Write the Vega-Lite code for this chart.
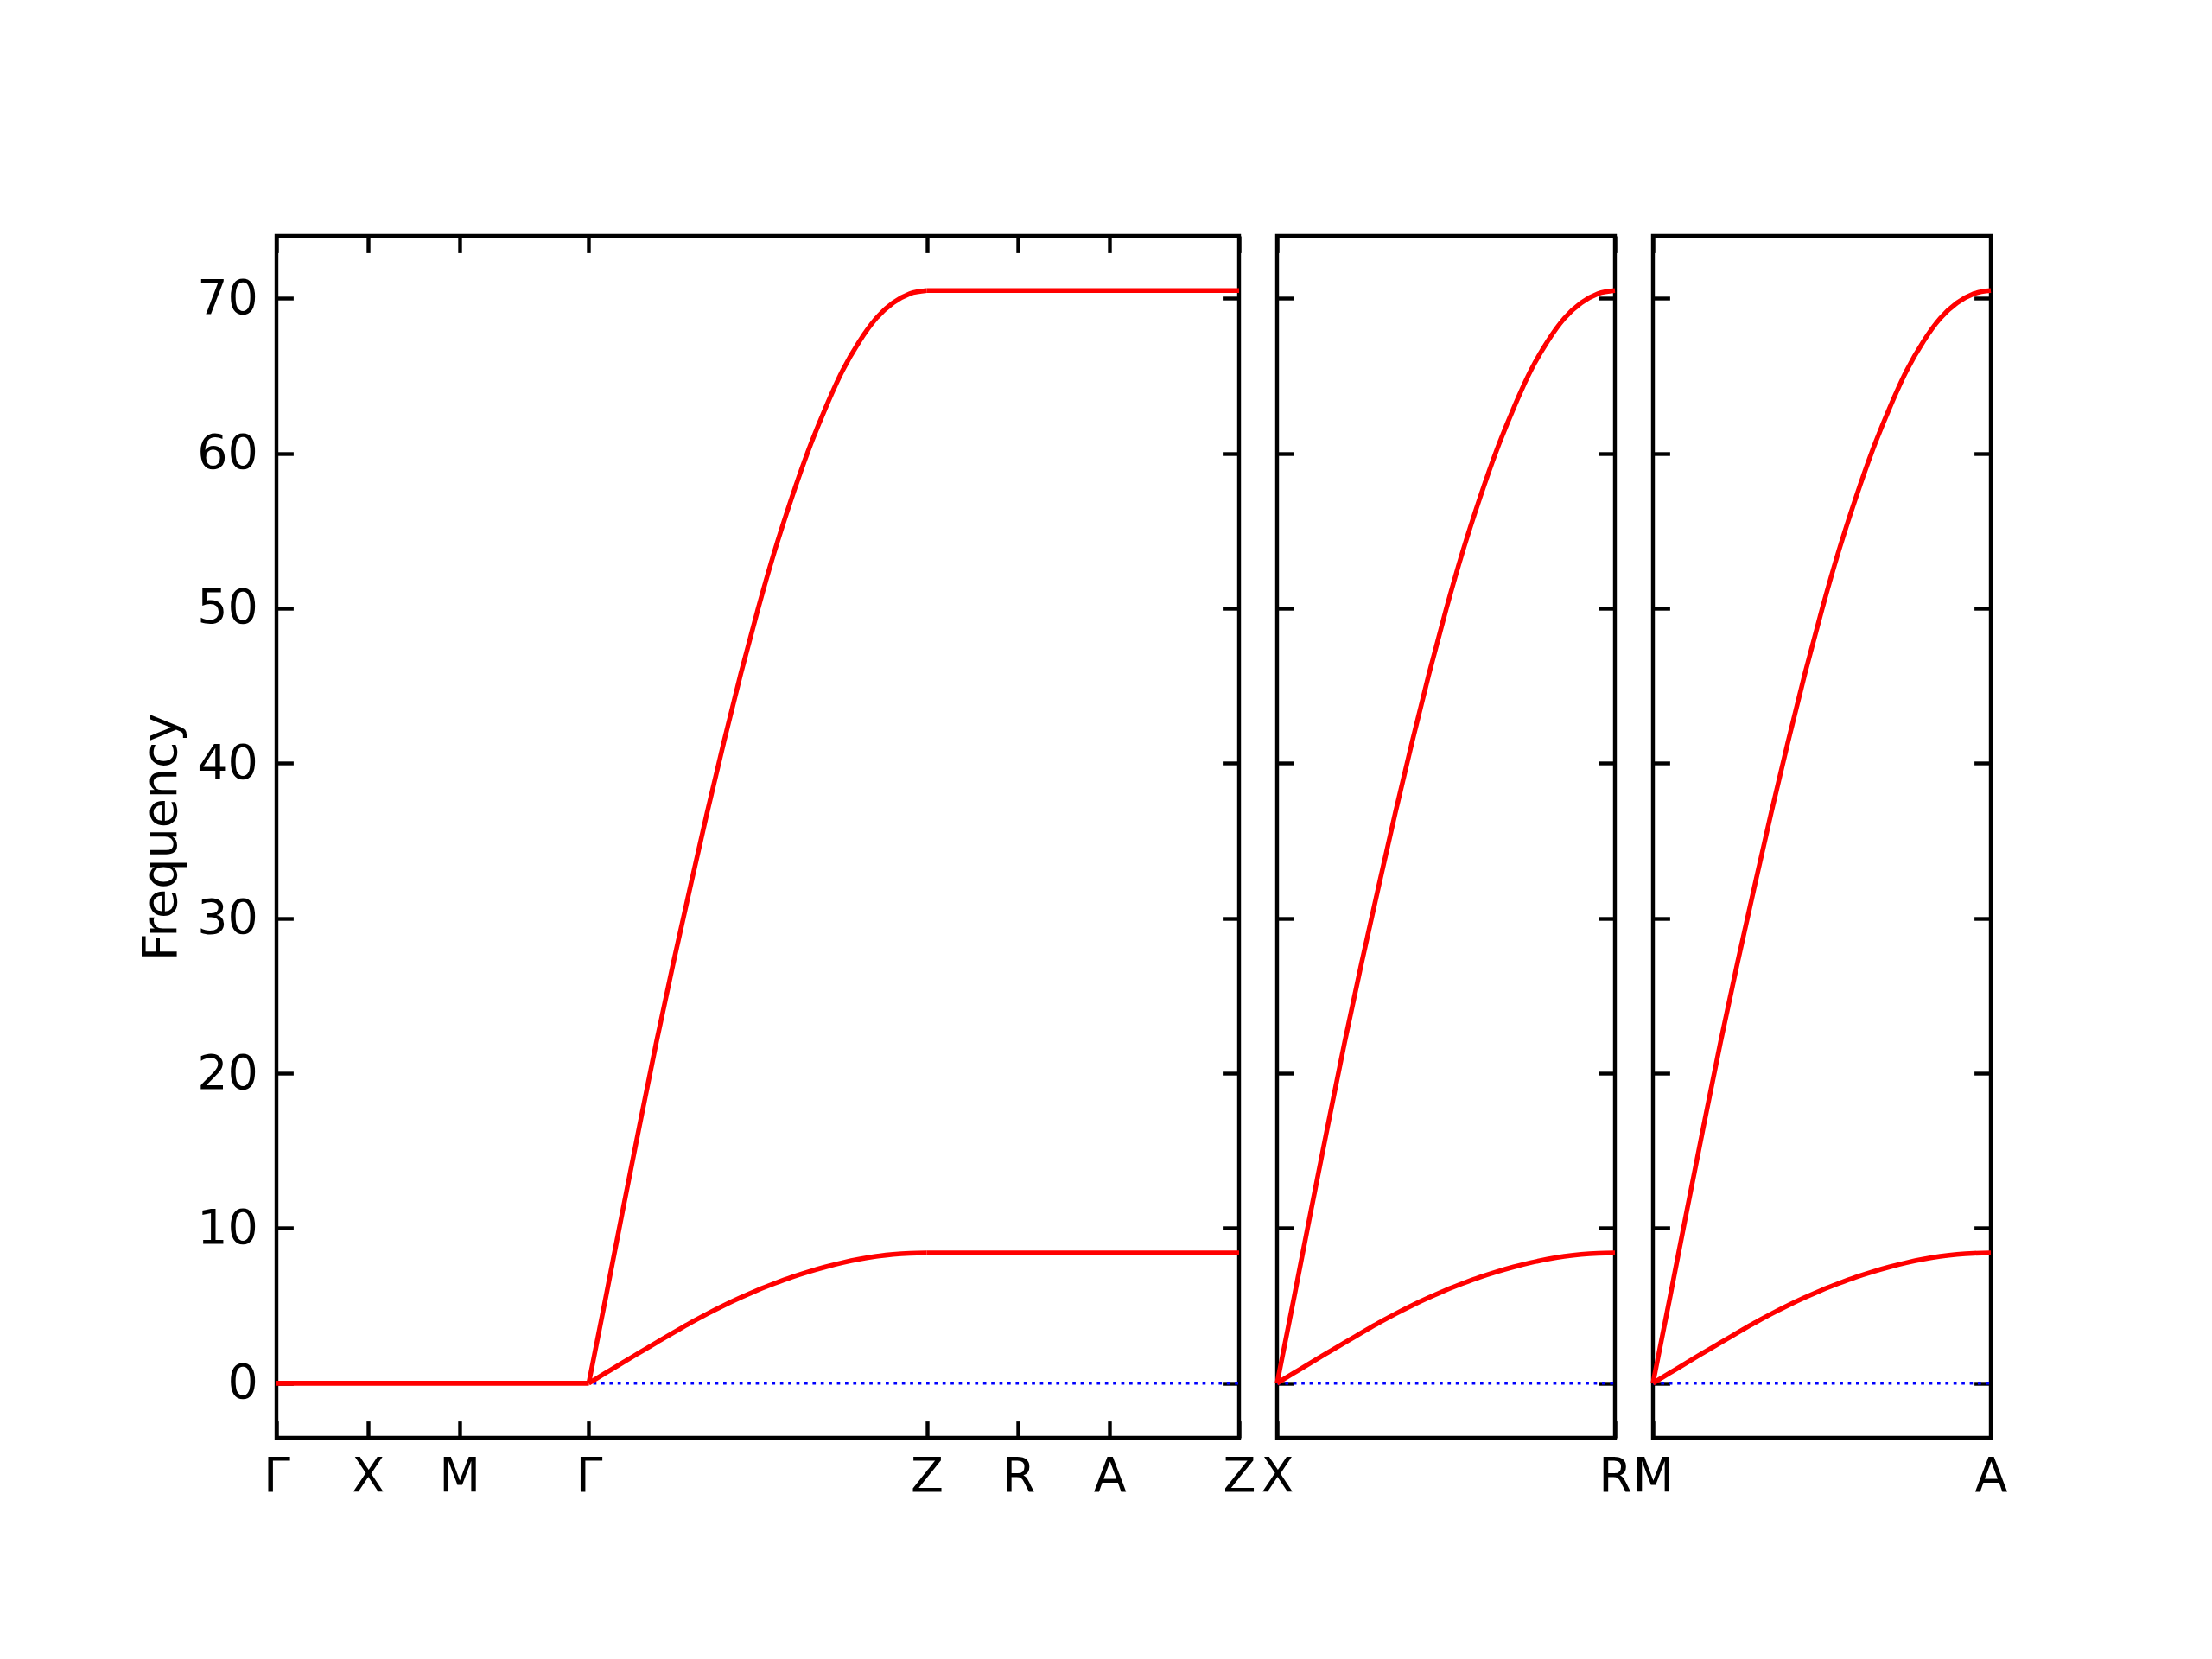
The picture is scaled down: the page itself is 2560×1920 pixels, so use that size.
{
  "$schema": "https://vega.github.io/schema/vega-lite/v6.json",
  "background": "white",
  "padding": {"left": 157, "top": 268, "right": 5, "bottom": 5},
  "config": {
    "view": {"stroke": "black", "strokeWidth": 4.4},
    "axis": {"domain": false, "grid": false, "tickSize": -19.4, "tickWidth": 4.4, "tickColor": "black", "labelFont": "DejaVu Sans", "labelFontSize": 55.5, "labelColor": "black", "titleFont": "DejaVu Sans", "titleFontSize": 55.5, "titleFontWeight": "normal", "titleColor": "black", "labelOverlap": false, "labelFlush": false, "labelBound": false}
  },
  "datasets": {
    "p1": [
      {"id": "lo-a", "x": 0, "y": 0}, {"id": "lo-a", "x": 0.9239, "y": 0},
      {"id": "hi-a", "x": 0, "y": 0}, {"id": "hi-a", "x": 0.9239, "y": 0},
      {"id": "lo-b", "x": 0.9239, "y": 0}, {"id": "lo-b", "x": 0.9739, "y": 0.66}, {"id": "lo-b", "x": 1.0239, "y": 1.32}, {"id": "lo-b", "x": 1.0739, "y": 1.97}, {"id": "lo-b", "x": 1.1239, "y": 2.62}, {"id": "lo-b", "x": 1.1739, "y": 3.25}, {"id": "lo-b", "x": 1.2239, "y": 3.88}, {"id": "lo-b", "x": 1.2739, "y": 4.47}, {"id": "lo-b", "x": 1.3239, "y": 5.02}, {"id": "lo-b", "x": 1.3739, "y": 5.53}, {"id": "lo-b", "x": 1.4239, "y": 6.01}, {"id": "lo-b", "x": 1.4739, "y": 6.44}, {"id": "lo-b", "x": 1.5239, "y": 6.84}, {"id": "lo-b", "x": 1.5739, "y": 7.19}, {"id": "lo-b", "x": 1.6239, "y": 7.5}, {"id": "lo-b", "x": 1.6739, "y": 7.77}, {"id": "lo-b", "x": 1.7239, "y": 8.0}, {"id": "lo-b", "x": 1.7739, "y": 8.18}, {"id": "lo-b", "x": 1.8239, "y": 8.31}, {"id": "lo-b", "x": 1.8739, "y": 8.38}, {"id": "lo-b", "x": 1.9239, "y": 8.4},
      {"id": "lo-c", "x": 1.9239, "y": 8.4}, {"id": "lo-c", "x": 2.8478, "y": 8.4},
      {"id": "hi-b", "x": 0.9239, "y": 0}, {"id": "hi-b", "x": 0.9739, "y": 5.5}, {"id": "hi-b", "x": 1.0239, "y": 11.1}, {"id": "hi-b", "x": 1.0739, "y": 16.6}, {"id": "hi-b", "x": 1.1239, "y": 22.0}, {"id": "hi-b", "x": 1.1739, "y": 27.1}, {"id": "hi-b", "x": 1.2239, "y": 32.0}, {"id": "hi-b", "x": 1.2739, "y": 36.8}, {"id": "hi-b", "x": 1.3239, "y": 41.4}, {"id": "hi-b", "x": 1.3739, "y": 45.8}, {"id": "hi-b", "x": 1.4239, "y": 49.9}, {"id": "hi-b", "x": 1.4739, "y": 53.7}, {"id": "hi-b", "x": 1.5239, "y": 57.1}, {"id": "hi-b", "x": 1.5739, "y": 60.2}, {"id": "hi-b", "x": 1.6239, "y": 62.9}, {"id": "hi-b", "x": 1.6739, "y": 65.3}, {"id": "hi-b", "x": 1.7239, "y": 67.2}, {"id": "hi-b", "x": 1.7739, "y": 68.7}, {"id": "hi-b", "x": 1.8239, "y": 69.7}, {"id": "hi-b", "x": 1.8739, "y": 70.3}, {"id": "hi-b", "x": 1.9239, "y": 70.5},
      {"id": "hi-c", "x": 1.9239, "y": 70.5}, {"id": "hi-c", "x": 2.8478, "y": 70.5}
    ],
    "br": [
      {"id": "lo", "x": 0, "y": 0}, {"id": "lo", "x": 0.05, "y": 0.66}, {"id": "lo", "x": 0.1, "y": 1.32}, {"id": "lo", "x": 0.15, "y": 1.97}, {"id": "lo", "x": 0.2, "y": 2.62}, {"id": "lo", "x": 0.25, "y": 3.25}, {"id": "lo", "x": 0.3, "y": 3.88}, {"id": "lo", "x": 0.35, "y": 4.47}, {"id": "lo", "x": 0.4, "y": 5.02}, {"id": "lo", "x": 0.45, "y": 5.53}, {"id": "lo", "x": 0.5, "y": 6.01}, {"id": "lo", "x": 0.55, "y": 6.44}, {"id": "lo", "x": 0.6, "y": 6.84}, {"id": "lo", "x": 0.65, "y": 7.19}, {"id": "lo", "x": 0.7, "y": 7.5}, {"id": "lo", "x": 0.75, "y": 7.77}, {"id": "lo", "x": 0.8, "y": 8.0}, {"id": "lo", "x": 0.85, "y": 8.18}, {"id": "lo", "x": 0.9, "y": 8.31}, {"id": "lo", "x": 0.95, "y": 8.38}, {"id": "lo", "x": 1, "y": 8.4},
      {"id": "hi", "x": 0, "y": 0}, {"id": "hi", "x": 0.05, "y": 5.5}, {"id": "hi", "x": 0.1, "y": 11.1}, {"id": "hi", "x": 0.15, "y": 16.6}, {"id": "hi", "x": 0.2, "y": 22.0}, {"id": "hi", "x": 0.25, "y": 27.1}, {"id": "hi", "x": 0.3, "y": 32.0}, {"id": "hi", "x": 0.35, "y": 36.8}, {"id": "hi", "x": 0.4, "y": 41.4}, {"id": "hi", "x": 0.45, "y": 45.8}, {"id": "hi", "x": 0.5, "y": 49.9}, {"id": "hi", "x": 0.55, "y": 53.7}, {"id": "hi", "x": 0.6, "y": 57.1}, {"id": "hi", "x": 0.65, "y": 60.2}, {"id": "hi", "x": 0.7, "y": 62.9}, {"id": "hi", "x": 0.75, "y": 65.3}, {"id": "hi", "x": 0.8, "y": 67.2}, {"id": "hi", "x": 0.85, "y": 68.7}, {"id": "hi", "x": 0.9, "y": 69.7}, {"id": "hi", "x": 0.95, "y": 70.3}, {"id": "hi", "x": 1, "y": 70.5}
    ],
    "z1": [{"x": 0, "y": 0}, {"x": 2.8478, "y": 0}],
    "z2": [{"x": 0, "y": 0}, {"x": 1, "y": 0}]
  },
  "bounds": "flush",
  "spacing": 44,
  "hconcat": [
    {
      "width": 1114, "height": 1391,
      "layer": [
        {
          "data": {"name": "z1"},
          "mark": {"type": "line", "color": "#0000ff", "strokeWidth": 3.5, "strokeDash": [3.7, 5.7]},
          "encoding": {
            "x": {"field": "x", "type": "quantitative", "scale": {"domain": [0, 2.8478], "nice": false, "zero": false}, "axis": {"orient": "top", "values": [0, 0.2706, 0.5412, 0.9239, 1.9239, 2.1945, 2.4651, 2.8478], "labels": false, "title": null}},
            "y": {"field": "y", "type": "quantitative", "scale": {"domain": [-3.525, 74.025], "nice": false, "zero": false}, "axis": {"orient": "left", "values": [0, 10, 20, 30, 40, 50, 60, 70], "format": "d", "labelPadding": 41, "title": "Frequency", "titlePadding": 12}}
          }
        },
        {
          "data": {"name": "p1"},
          "mark": {"type": "line", "color": "#ff0000", "strokeWidth": 5.5, "interpolate": "monotone"},
          "encoding": {
            "x": {"field": "x", "type": "quantitative", "scale": {"domain": [0, 2.8478], "nice": false, "zero": false}, "axis": {"orient": "bottom", "values": [0, 0.2706, 0.5412, 0.9239, 1.9239, 2.1945, 2.4651, 2.8478], "labelExpr": "datum.value < 0.1 ? 'Γ' : datum.value < 0.4 ? 'X' : datum.value < 0.7 ? 'M' : datum.value < 1.2 ? 'Γ' : datum.value < 2.0 ? 'Z' : datum.value < 2.3 ? 'R' : datum.value < 2.6 ? 'A' : 'Z'", "labelPadding": 37, "title": null}},
            "y": {"field": "y", "type": "quantitative", "scale": {"domain": [-3.525, 74.025], "nice": false, "zero": false}, "axis": {"orient": "right", "values": [0, 10, 20, 30, 40, 50, 60, 70], "labels": false, "title": null}},
            "detail": {"field": "id"}
          }
        }
      ]
    },
    {
      "width": 391, "height": 1391,
      "layer": [
        {
          "data": {"name": "z2"},
          "mark": {"type": "line", "color": "#0000ff", "strokeWidth": 3.5, "strokeDash": [3.7, 5.7]},
          "encoding": {
            "x": {"field": "x", "type": "quantitative", "scale": {"domain": [0, 1], "nice": false, "zero": false}, "axis": {"orient": "top", "values": [0, 1], "labels": false, "title": null}},
            "y": {"field": "y", "type": "quantitative", "scale": {"domain": [-3.525, 74.025], "nice": false, "zero": false}, "axis": {"orient": "left", "values": [0, 10, 20, 30, 40, 50, 60, 70], "labels": false, "title": null}}
          }
        },
        {
          "data": {"name": "br"},
          "mark": {"type": "line", "color": "#ff0000", "strokeWidth": 5.5, "interpolate": "monotone"},
          "encoding": {
            "x": {"field": "x", "type": "quantitative", "scale": {"domain": [0, 1], "nice": false, "zero": false}, "axis": {"orient": "bottom", "values": [0, 1], "labelExpr": "datum.value < 0.5 ? 'X' : 'R'", "labelPadding": 37, "title": null}},
            "y": {"field": "y", "type": "quantitative", "scale": {"domain": [-3.525, 74.025], "nice": false, "zero": false}, "axis": {"orient": "right", "values": [0, 10, 20, 30, 40, 50, 60, 70], "labels": false, "title": null}},
            "detail": {"field": "id"}
          }
        }
      ]
    },
    {
      "width": 391, "height": 1391,
      "layer": [
        {
          "data": {"name": "z2"},
          "mark": {"type": "line", "color": "#0000ff", "strokeWidth": 3.5, "strokeDash": [3.7, 5.7]},
          "encoding": {
            "x": {"field": "x", "type": "quantitative", "scale": {"domain": [0, 1], "nice": false, "zero": false}, "axis": {"orient": "top", "values": [0, 1], "labels": false, "title": null}},
            "y": {"field": "y", "type": "quantitative", "scale": {"domain": [-3.525, 74.025], "nice": false, "zero": false}, "axis": {"orient": "left", "values": [0, 10, 20, 30, 40, 50, 60, 70], "labels": false, "title": null}}
          }
        },
        {
          "data": {"name": "br"},
          "mark": {"type": "line", "color": "#ff0000", "strokeWidth": 5.5, "interpolate": "monotone"},
          "encoding": {
            "x": {"field": "x", "type": "quantitative", "scale": {"domain": [0, 1], "nice": false, "zero": false}, "axis": {"orient": "bottom", "values": [0, 1], "labelExpr": "datum.value < 0.5 ? 'M' : 'A'", "labelPadding": 37, "title": null}},
            "y": {"field": "y", "type": "quantitative", "scale": {"domain": [-3.525, 74.025], "nice": false, "zero": false}, "axis": {"orient": "right", "values": [0, 10, 20, 30, 40, 50, 60, 70], "labels": false, "title": null}},
            "detail": {"field": "id"}
          }
        }
      ]
    }
  ]
}
